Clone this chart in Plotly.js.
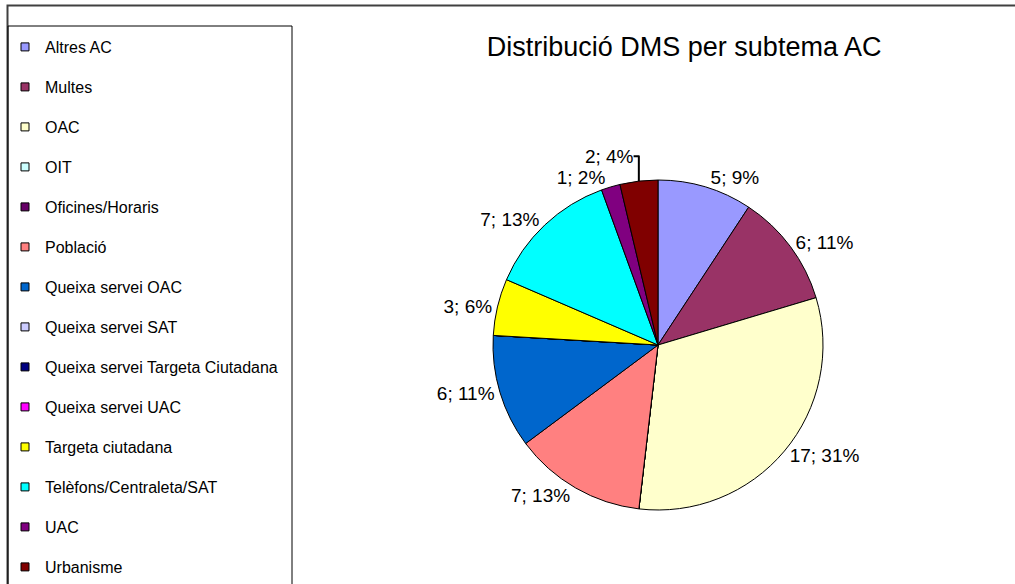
<!DOCTYPE html>
<html>
<head>
<meta charset="utf-8">
<script src="https://cdn.plot.ly/plotly-3.0.1.min.js"></script>
<style>
  html, body { margin: 0; padding: 0; background: #fff; }
  #chart { width: 1015px; height: 584px; }
</style>
</head>
<body>
<div id="chart"></div>
<script>
const categories = [
  "Altres AC", "Multes", "OAC", "OIT", "Oficines/Horaris", "Població",
  "Queixa servei OAC", "Queixa servei SAT", "Queixa servei Targeta Ciutadana",
  "Queixa servei UAC", "Targeta ciutadana", "Telèfons/Centraleta/SAT", "UAC", "Urbanisme"
];
const counts = [5, 6, 17, 0, 0, 7, 6, 0, 0, 0, 3, 7, 1, 2];
const colors = [
  "#9999FF", "#993366", "#FFFFCC", "#CCFFFF", "#660066", "#FF8080",
  "#0066CC", "#CCCCFF", "#000080", "#FF00FF", "#FFFF00", "#00FFFF", "#800080", "#800000"
];
const chartTitle = "Distribució DMS per subtema AC";

const FONT = "Liberation Sans, Arial, Helvetica, sans-serif";

const texts = counts.map(v => v > 0 ? "%{value}; %{percent:.0%}" : "");

const pie = {
  type: "pie",
  labels: categories,
  values: counts,
  marker: { colors: colors, line: { color: "#000000", width: 1 } },
  sort: false,
  direction: "clockwise",
  rotation: 0,
  textposition: "outside",
  texttemplate: texts,
  textfont: { family: FONT, size: 19, color: "#000000" },
  showlegend: false,
  hoverinfo: "label+value+percent",
  domain: { x: [493 / 1015, 823 / 1015], y: [1 - 510 / 584, 1 - 180 / 584] }
};

const legendTraces = categories.map((c, i) => ({
  type: "scatter",
  mode: "markers",
  x: [null], y: [null],
  name: c,
  legendgroup: "g" + i,
  marker: { symbol: "square", size: 8, color: colors[i], line: { color: "#000000", width: 1 } },
  showlegend: true,
  hoverinfo: "skip"
}));

const layout = {
  width: 1015, height: 584,
  margin: { l: 0, r: 0, t: 0, b: 0 },
  paper_bgcolor: "#ffffff",
  plot_bgcolor: "#ffffff",
  font: { family: FONT, color: "#000000" },
  title: {
    text: chartTitle,
    font: { family: FONT, size: 27, color: "#000000" },
    x: 0.674, xanchor: "center",
    y: 1 - 47 / 584, yanchor: "middle"
  },
  xaxis: { visible: false },
  yaxis: { visible: false },
  showlegend: true,
  legend: {
    x: 5 / 1015, xanchor: "left",
    y: 1 - 33 / 584, yanchor: "top",
    bgcolor: "rgba(0,0,0,0)",
    borderwidth: 0,
    font: { family: FONT, size: 16, color: "#000000" },
    tracegroupgap: 16.2,
    itemclick: false, itemdoubleclick: false
  },
  shapes: [
    { type: "rect", xref: "paper", yref: "paper",
      x0: 7.5 / 1015, x1: 1.02, y0: -0.05, y1: 1 - 5.5 / 584,
      line: { color: "#404040", width: 2 }, fillcolor: "rgba(0,0,0,0)", layer: "below" },
    { type: "rect", xref: "paper", yref: "paper",
      x0: 8 / 1015, x1: 292 / 1015, y0: -0.05, y1: 1 - 26 / 584,
      line: { color: "#000000", width: 1 }, fillcolor: "rgba(0,0,0,0)", layer: "below" }
  ]
};

Plotly.newPlot("chart", [pie].concat(legendTraces), layout, { displayModeBar: false, staticPlot: true });
</script>
</body>
</html>
